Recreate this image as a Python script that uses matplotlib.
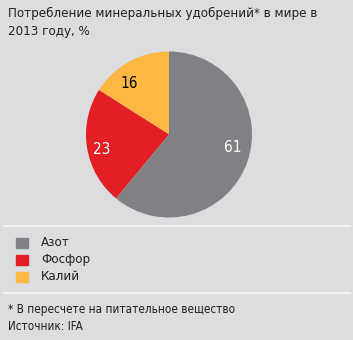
import matplotlib
matplotlib.use("Agg")
import matplotlib.pyplot as plt
from matplotlib.patches import Rectangle
from matplotlib.lines import Line2D
import numpy as np

categories = ["Азот", "Фосфор", "Калий"]
values = [61, 23, 16]
colors = ["#808184", "#e31e24", "#fdb843"]
label_colors = ["white", "white", "black"]
title = "Потребление минеральных удобрений* в мире в\n2013 году, %"
footnote = "* В пересчете на питательное вещество\nИсточник: IFA"

plt.rcParams['font.family'] = ["DejaVu Sans"]
plt.rcParams['font.stretch'] = "condensed"

W, H = 353, 340
fig = plt.figure(figsize=(W/100, H/100), dpi=100)
fig.patch.set_facecolor("#dcdddf")

cx, cy, r = 169, 134.5, 83
ax = fig.add_axes([(cx - r)/W, 1 - (cy + r)/H, 2*r/W, 2*r/H])
ax.set_facecolor("none")
order = [2, 1, 0]
ax.pie([values[i] for i in order], colors=[colors[i] for i in order],
       startangle=90, counterclock=True, radius=1.0, wedgeprops=dict(linewidth=0))
ang = 90.0
label_pos = {2: (0.78, 9), 1: (0.83, 4), 0: (0.78, 8)}  # (distance, angle shift)
for i in order:
    span = values[i] / sum(values) * 360
    d, shift = label_pos[i]
    mid = np.deg2rad(ang + span/2 + shift)
    ax.text(d*np.cos(mid), d*np.sin(mid), str(values[i]), color=label_colors[i],
            ha="center", va="center", fontsize=11, fontstretch="condensed")
    ang += span
ax.set_xlim(-1, 1); ax.set_ylim(-1, 1)
ax.set_aspect("auto")
ax.axis("off")

fig.text(8/W, 1 - 7/H, title, ha="left", va="top", fontsize=9.5, color="#231f20",
         linespacing=1.5, fontstretch="condensed")

for y in (226, 293):
    fig.add_artist(Line2D([4/W, 350/W], [1 - y/H, 1 - y/H], color="#f2f2f2", lw=1.5))

for k, cat in enumerate(categories):
    y = 242.5 + k*17
    fig.add_artist(Rectangle((16/W, 1 - (y + 5)/H), 12/W, 10/H, color=colors[k],
                             transform=fig.transFigure))
    fig.text(41/W, 1 - y/H, cat, ha="left", va="center", fontsize=9.5, color="#231f20",
             fontstretch="condensed")

fig.text(8/W, 1 - 303/H, footnote, ha="left", va="top", fontsize=8.4, color="#231f20",
         linespacing=1.45, fontstretch="condensed")

fig.savefig("out.png", dpi=100, facecolor=fig.get_facecolor())
